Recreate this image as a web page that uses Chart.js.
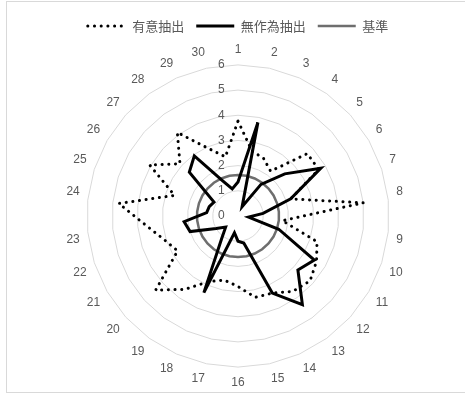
<!DOCTYPE html>
<html>
<head>
<meta charset="utf-8">
<script src="https://cdn.jsdelivr.net/npm/chart.js@4"></script>
<style>
html, body { margin: 0; padding: 0; background: #fff; }
#frame { position: absolute; left: 6px; top: 1px; width: 470px; height: 392px; box-sizing: border-box; border: 1px solid #d9d9d9; }
#radar { position: absolute; left: 0; top: 0; }
</style>
</head>
<body>
<div id="frame"></div>
<canvas id="radar" width="465" height="394"></canvas>
<script>
const categories = ['1', '2', '3', '4', '5', '6', '7', '8', '9', '10',
                    '11', '12', '13', '14', '15', '16', '17', '18', '19', '20',
                    '21', '22', '23', '24', '25', '26', '27', '28', '29', '30'];

// 有意抽出
const intentional = [3.77, 2.65, 2.5, 2.2, 3.7, 3.7, 2.2, 5.0, 1.77, 3.3,
                     3.6, 3.85, 3.7, 3.35, 3.3, 2.8, 2.6, 2.85, 3.6, 4.4,
                     2.77, 3.07, 3.66, 4.76, 2.65, 4.05, 3.1, 4.1, 2.95, 2.4];

// 無作為抽出
const randomPick = [1.35, 3.8, 0.4, 1.55, 2.5, 3.8, 2.2, 1.0, 0.42, 1.7,
                    3.5, 3.2, 4.35, 3.35, 1.1, 1.0, 0.68, 3.33, 1.1, 0.66,
                    1.0, 2.0, 2.15, 1.25, 1.2, 1.1, 2.6, 2.95, 1.55, 1.1];

// 基準
const baseline = [1.63, 1.63, 1.63, 1.63, 1.63, 1.63, 1.63, 1.63, 1.63, 1.63,
                  1.63, 1.63, 1.63, 1.63, 1.63, 1.63, 1.63, 1.63, 1.63, 1.63,
                  1.63, 1.63, 1.63, 1.63, 1.63, 1.63, 1.63, 1.63, 1.63, 1.63];

const tickValues = [0, 1, 2, 3, 4, 5, 6];

const TEXT_COLOR = '#595959';

new Chart(document.getElementById('radar'), {
    type: 'radar',
    data: {
        labels: categories,
        datasets: [
            {
                label: '有意抽出',
                data: intentional,
                fill: false,
                borderColor: '#000000',
                borderWidth: 3,
                borderDash: [0.1, 6.6],
                borderCapStyle: 'round'
            },
            {
                label: '無作為抽出',
                data: randomPick,
                fill: false,
                borderColor: '#000000',
                borderWidth: 3
            },
            {
                label: '基準',
                data: baseline,
                fill: false,
                borderColor: '#6e6e6e',
                borderWidth: 2.5
            }
        ]
    },
    options: {
        responsive: false,
        animation: false,
        devicePixelRatio: 1,
        layout: { padding: { top: 7.5, left: 38, right: 27, bottom: 4.5 } },
        elements: {
            point: { radius: 0, hoverRadius: 0 },
            line: { tension: 0 }
        },
        scales: {
            r: {
                min: -0.001,
                max: 6,
                // keep a blank first tick so the "0" label is drawn too
                afterBuildTicks: (scale) => {
                    scale.ticks = [{ value: -0.001 }].concat(tickValues.map(v => ({ value: v })));
                },
                angleLines: { display: false },
                grid: { color: '#d9d9d9', lineWidth: 1 },
                ticks: {
                    color: TEXT_COLOR,
                    font: { size: 12, family: 'Liberation Sans' },
                    showLabelBackdrop: false,
                    backdropPadding: 0,
                    callback: (v) => tickValues.includes(v) ? v + '          ' : ''
                },
                pointLabels: {
                    color: TEXT_COLOR,
                    font: { size: 12, family: 'Liberation Sans' },
                    padding: 2
                }
            }
        },
        plugins: {
            tooltip: { enabled: false },
            legend: {
                position: 'top',
                labels: {
                    usePointStyle: true,
                    pointStyleWidth: 38,
                    padding: 12,
                    color: TEXT_COLOR,
                    font: { size: 13, family: 'Noto Sans CJK JP' },
                    generateLabels: (chart) => chart.data.datasets.map((ds, i) => ({
                        text: ds.label,
                        pointStyle: 'line',
                        strokeStyle: ds.borderColor,
                        fillStyle: ds.borderColor,
                        lineWidth: ds.borderWidth,
                        lineDash: ds.borderDash || [],
                        lineCap: ds.borderCapStyle || 'butt',
                        fontColor: TEXT_COLOR,
                        hidden: false,
                        datasetIndex: i
                    }))
                }
            }
        }
    }
});
</script>
</body>
</html>
